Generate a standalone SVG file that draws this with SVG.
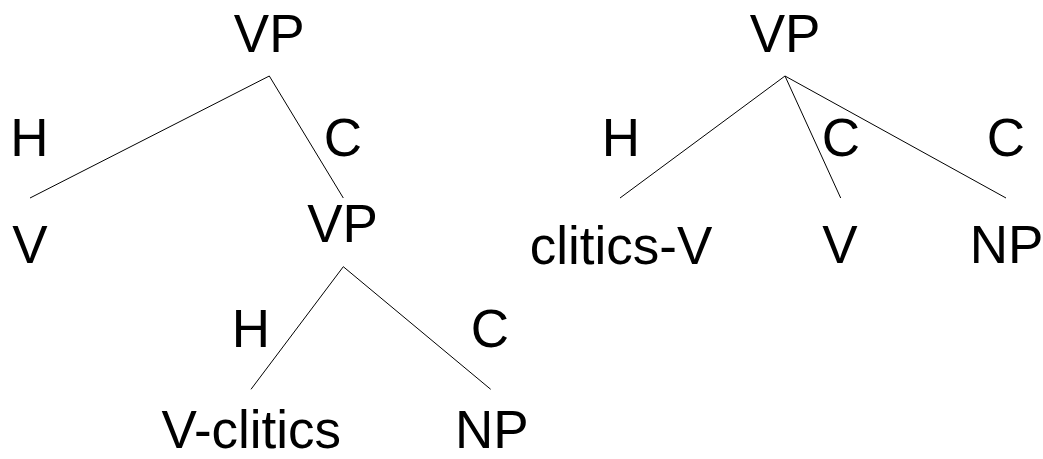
<svg xmlns="http://www.w3.org/2000/svg" width="1043" height="459" viewBox="0 0 1043 459">
<style>
text{font-family:"Liberation Sans",Arial,sans-serif;font-size:53px;fill:#000;text-anchor:middle}
line{stroke:#000;stroke-width:1}
</style>
<rect width="1043" height="459" fill="#fff"/>
<g id="connectors">
<line x1="269.3" y1="76" x2="30" y2="198"/>
<line x1="269.3" y1="76" x2="343.3" y2="198"/>
<line x1="343.3" y1="266.7" x2="251" y2="389.3"/>
<line x1="343.3" y1="266.7" x2="490.7" y2="389.3"/>
<line x1="785" y1="76" x2="620" y2="198"/>
<line x1="785" y1="76" x2="840.7" y2="198"/>
<line x1="785" y1="76" x2="1006" y2="198"/>
</g>
<g id="labels">
<text x="29.5" y="156">H</text>
<text x="343" y="156">C</text>
<text x="251" y="347">H</text>
<text x="490" y="347">C</text>
<text x="621" y="156">H</text>
<text x="841" y="156">C</text>
<text x="1006" y="156">C</text>
</g>
<g id="vp1"><text x="269.2" y="52">VP</text></g>
<g id="v1"><text x="30" y="263">V</text></g>
<g id="vp2"><text x="342.5" y="242">VP</text></g>
<g id="vclitics"><text x="251.3" y="447.5">V-clitics</text></g>
<g id="np1"><text x="491.7" y="447.5">NP</text></g>
<g id="vp3"><text x="785" y="52">VP</text></g>
<g id="cliticsv"><text x="621" y="264">clitics-V</text></g>
<g id="v2"><text x="840" y="263">V</text></g>
<g id="np2"><text x="1006.5" y="263">NP</text></g>
</svg>
